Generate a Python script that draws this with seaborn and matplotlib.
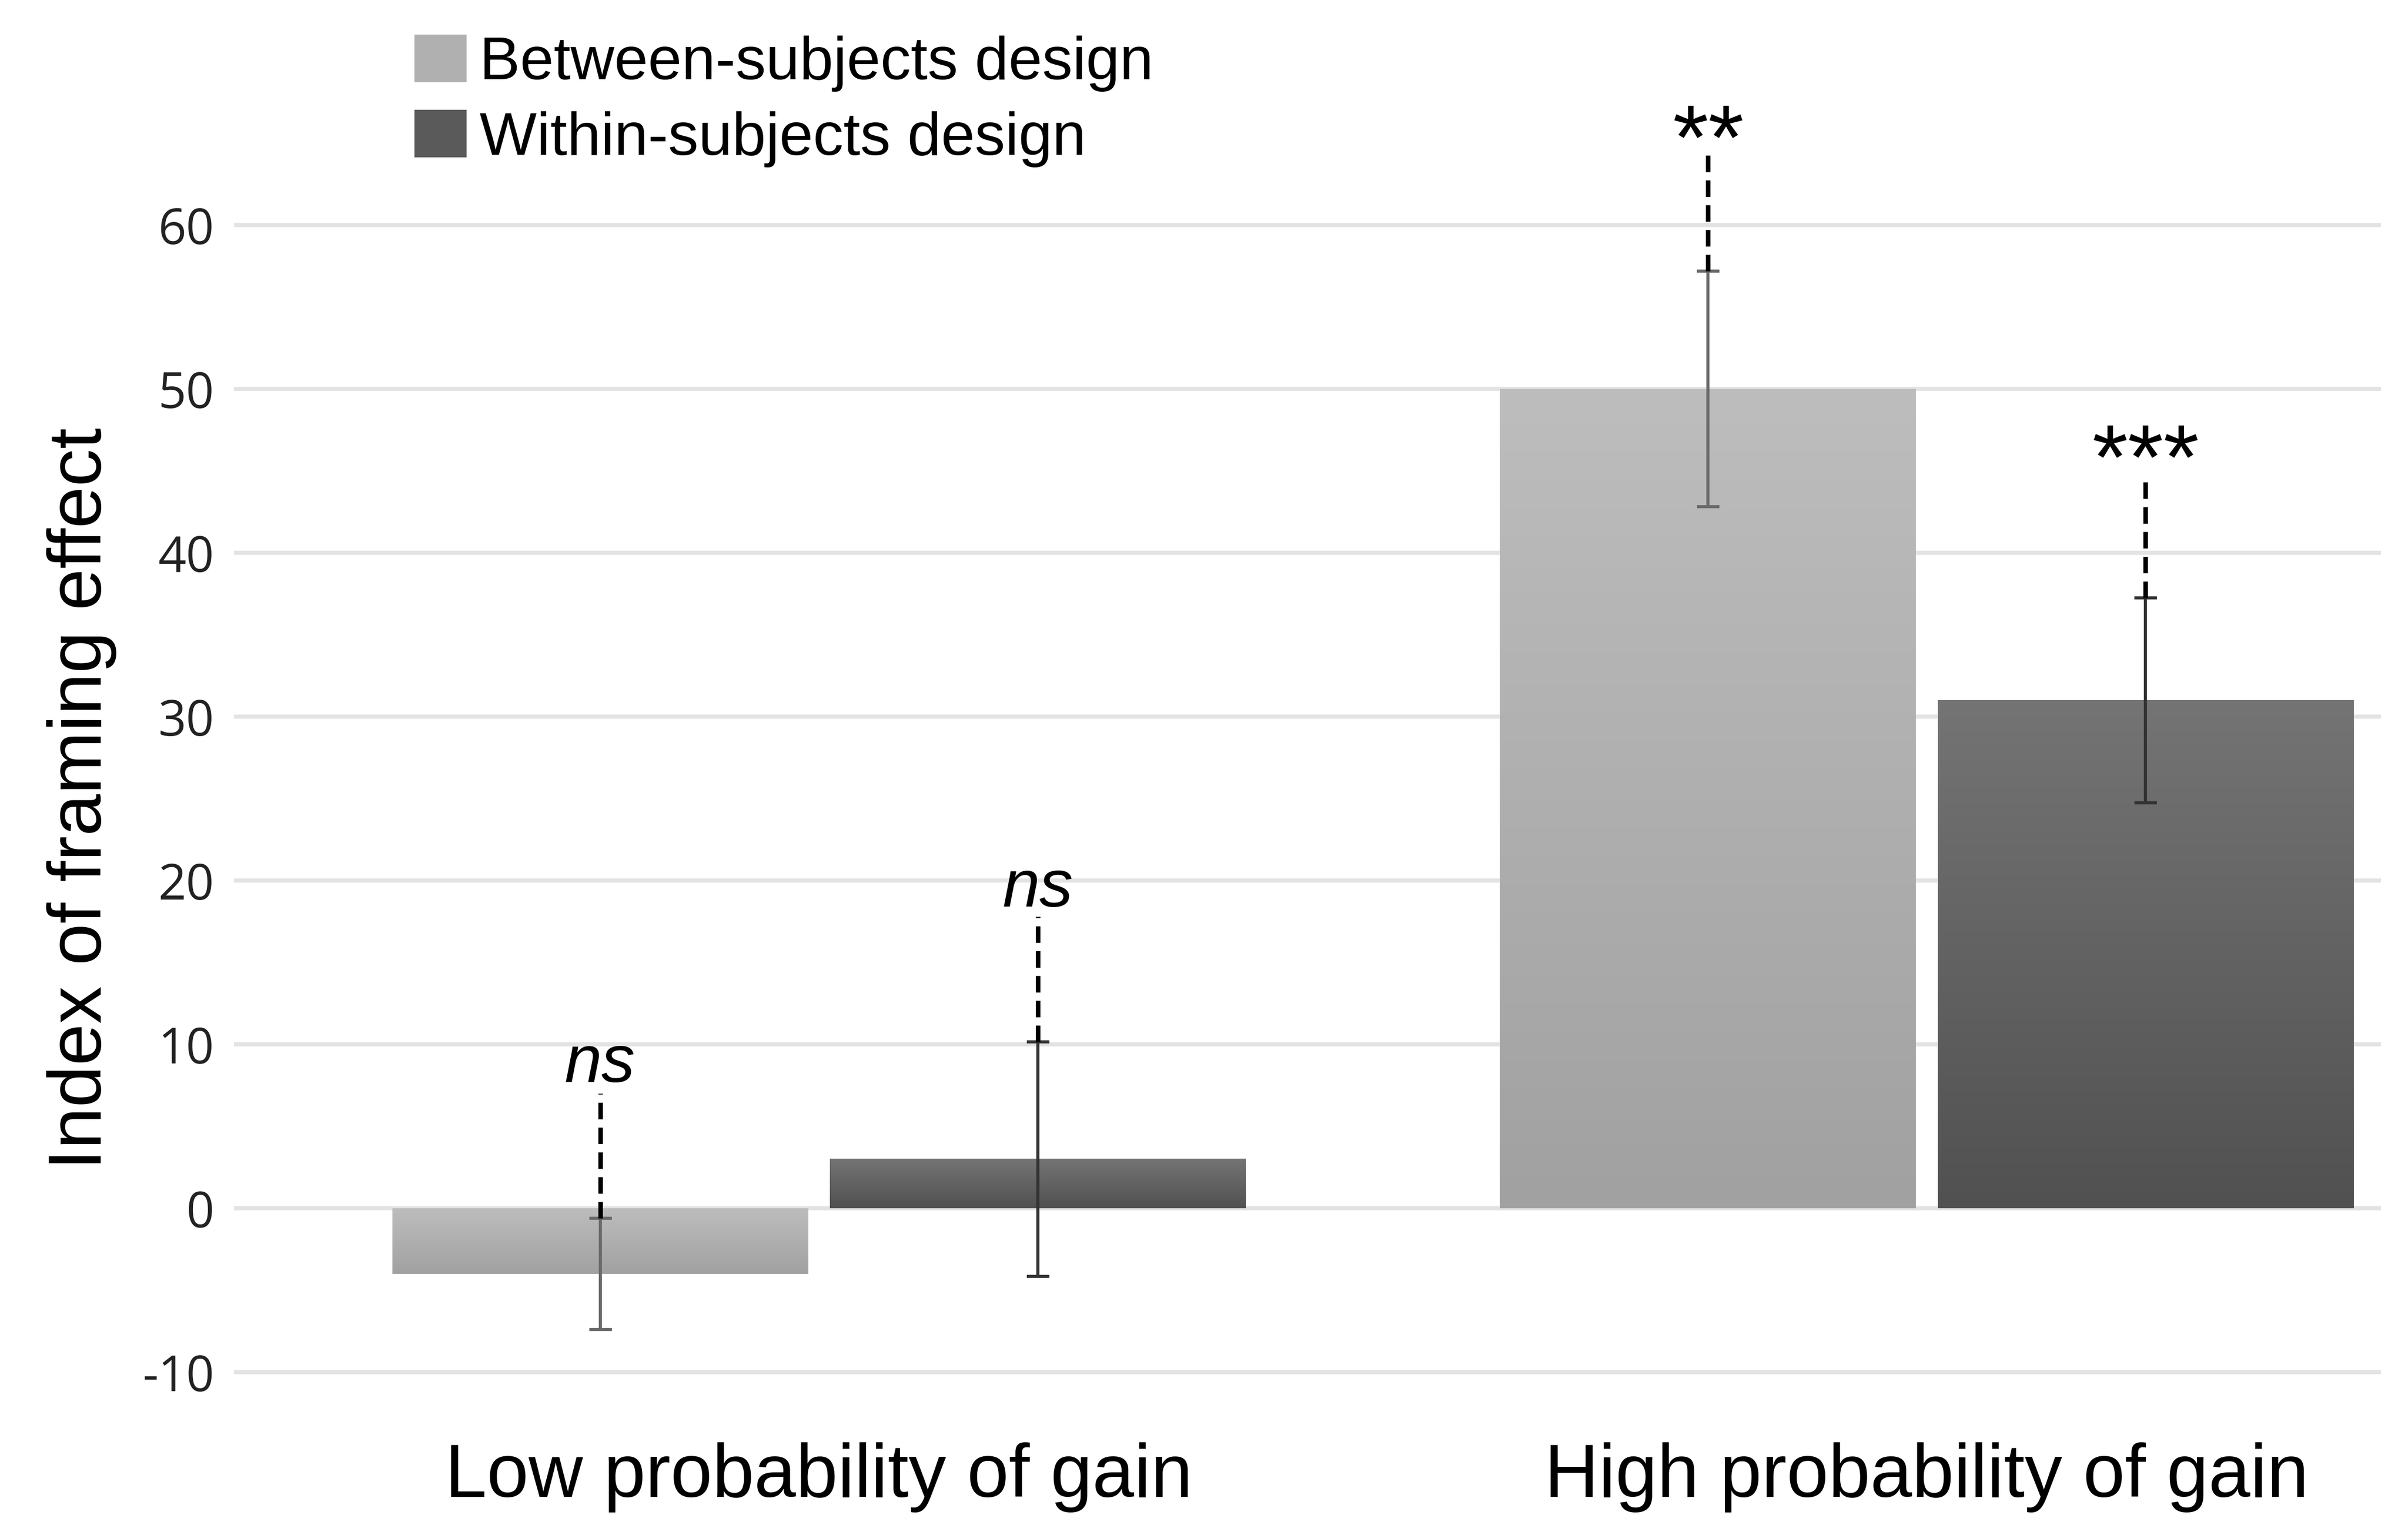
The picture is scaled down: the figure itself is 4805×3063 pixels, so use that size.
"""Framing effect index by design type and probability of gain."""

import matplotlib

matplotlib.use("Agg")
import matplotlib.pyplot as plt
import numpy as np
import pandas as pd
import seaborn as sns
from matplotlib.colors import LinearSegmentedColormap
from matplotlib.patches import Patch

# ---- data ----
conditions = ["Low probability of gain", "High probability of gain"]
designs = ["Between-subjects design", "Within-subjects design"]

between_means = [-4.0, 50.0]
within_means = [3.0, 31.0]
between_errors = [3.4, 7.2]
within_errors = [7.15, 6.25]

between_sig = ["ns", "**"]
within_sig = ["ns", "***"]
# top of the dashed connector and baseline of the significance label
between_dash_top = [7.0, 64.7]
within_dash_top = [17.8, 44.8]
between_label_base = [7.7, 63.4]
within_label_base = [18.4, 43.9]

yticks = [-10, 0, 10, 20, 30, 40, 50, 60]

# colours (top, bottom of the bar gradient) and legend swatch colours
between_grad = ("#bdbdbd", "#a1a1a1")
within_grad = ("#747474", "#515151")
legend_colors = ["#b0b0b0", "#5a5a5a"]
err_colors = ["#6a6a6a", "#333333"]

df = pd.DataFrame({
    "condition": conditions * 2,
    "design": [designs[0]] * 2 + [designs[1]] * 2,
    "index": between_means + within_means,
})

sns.set_theme(style="white")
plt.rcParams["font.family"] = ["Liberation Sans", "DejaVu Sans"]
plt.rcParams["text.color"] = "black"

fig = plt.figure(figsize=(4805 / 300, 3063 / 300), dpi=300)
ax = fig.add_axes([0.0972, 0.08475, 0.8916, 0.79])

sns.barplot(
    data=df, x="condition", y="index", hue="design",
    order=conditions, hue_order=designs,
    palette=legend_colors, saturation=1, width=0.79, gap=0.05,
    errorbar=None, legend=False, ax=ax, zorder=2,
)

means = [between_means, within_means]
errors = [between_errors, within_errors]
sigs = [between_sig, within_sig]
dash_tops = [between_dash_top, within_dash_top]
label_bases = [between_label_base, within_label_base]
grads = [between_grad, within_grad]

bar_containers = list(ax.containers)
ramp = np.linspace(0, 1, 256).reshape(-1, 1)
for i, container in enumerate(bar_containers):
    cmap = LinearSegmentedColormap.from_list(f"g{i}", list(grads[i]))
    for j, bar in enumerate(container):
        x0, w = bar.get_x(), bar.get_width()
        y0, h = bar.get_y(), bar.get_height()
        lo, hi = min(y0, y0 + h), max(y0, y0 + h)
        ax.imshow(ramp, extent=[x0, x0 + w, lo, hi], origin="upper",
                  aspect="auto", cmap=cmap, zorder=2.1, interpolation="bilinear")
        bar.set_alpha(0)

        cx = x0 + w / 2
        m, e = means[i][j], errors[i][j]
        ax.errorbar(cx, m, yerr=e, fmt="none", ecolor=err_colors[i],
                    elinewidth=1.5, capsize=5.4, capthick=1.5, zorder=4)
        ax.plot([cx, cx], [m + e, dash_tops[i][j]], color="black",
                lw=2.2, ls=(0, (3.6, 1.8)), zorder=4, clip_on=False)
        if sigs[i][j] == "ns":
            ax.text(cx, label_bases[i][j], "ns", ha="center", va="baseline",
                    fontsize=32, style="italic", color="black")
        else:
            ax.text(cx, label_bases[i][j], sigs[i][j], ha="center",
                    va="baseline", fontsize=44, color="black")

ax.set_xlim(-0.528, 1.41)
ax.set_ylim(-12, 62)
ax.set_yticks(yticks)
ax.set_yticklabels([str(t) for t in yticks], family="Open Sans", fontsize=23.5,
                   color="#222222")
ax.tick_params(axis="both", length=0)
ax.tick_params(axis="y", pad=9.5)
ax.tick_params(axis="x", labelsize=36, pad=18, labelcolor="black")

ax.grid(axis="y", color="#e3e3e3", linewidth=2.0, zorder=0)
ax.grid(axis="x", visible=False)
ax.set_axisbelow(True)
sns.despine(ax=ax, left=True, bottom=True)

ax.set_xlabel("")
ax.set_ylabel("Index of framing effect", fontsize=36, color="black")
ax.yaxis.set_label_coords(-0.0546, 0.5)

handles = [Patch(facecolor=c, edgecolor="none") for c in legend_colors]
ax.legend(handles, designs, loc="upper left",
          bbox_to_anchor=(0.1721, 0.9775), bbox_transform=fig.transFigure,
          frameon=False, fontsize=29, borderpad=0, borderaxespad=0,
          handlelength=0.86, handleheight=0.83, handletextpad=0.22,
          labelspacing=0.3, labelcolor="black")

fig.savefig("out.png", dpi=300)
